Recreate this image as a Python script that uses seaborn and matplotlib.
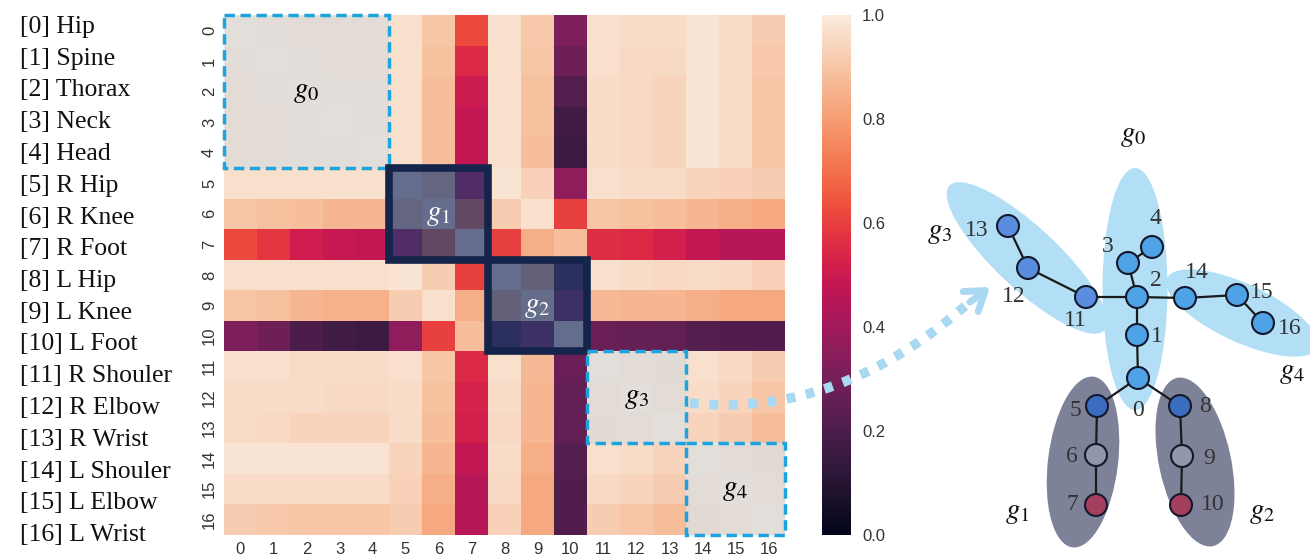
import numpy as np
import pandas as pd
import seaborn as sns
import matplotlib.pyplot as plt
from matplotlib.patches import Rectangle, Ellipse

# ==== Data ====

joint_names = ["Hip", "Spine", "Thorax", "Neck", "Head", "R Hip", "R Knee", "R Foot",
               "L Hip", "L Knee", "L Foot", "R Shouler", "R Elbow", "R Wrist",
               "L Shouler", "L Elbow", "L Wrist"]
joint_ids = [str(i) for i in range(17)]

# joint affinity matrix (rows / cols = joint index)
affinity = [
    [1.00, .99, .98, .98, .98, .97, .90, .62, .97, .91, .32, .97, .96, .96, .98, .96, .92],
    [.99, 1.00, .99, .98, .98, .97, .89, .55, .97, .90, .28, .97, .95, .95, .98, .96, .91],
    [.98, .99, 1.00, .99, .99, .97, .88, .50, .97, .89, .22, .96, .95, .94, .98, .96, .90],
    [.98, .98, .99, 1.00, .99, .97, .88, .48, .97, .89, .17, .96, .95, .94, .98, .96, .90],
    [.98, .98, .99, .99, 1.00, .97, .88, .48, .97, .88, .16, .96, .95, .94, .98, .96, .90],
    [.97, .97, .97, .97, .97, 1.00, .93, .45, .98, .93, .36, .97, .96, .96, .94, .93, .92],
    [.90, .89, .88, .86, .86, .93, 1.00, .70, .92, .97, .60, .90, .89, .88, .86, .84, .83],
    [.62, .58, .51, .49, .48, .45, .70, 1.00, .60, .84, .88, .56, .55, .52, .48, .45, .45],
    [.97, .97, .97, .97, .97, .98, .92, .60, 1.00, .89, .15, .97, .96, .95, .96, .95, .93],
    [.90, .89, .86, .85, .85, .92, .97, .84, .89, 1.00, .30, .87, .86, .86, .84, .83, .83],
    [.32, .28, .20, .17, .16, .36, .60, .88, .15, .30, 1.00, .27, .26, .25, .22, .21, .21],
    [.97, .97, .96, .96, .96, .97, .90, .55, .97, .87, .27, 1.00, .98, .97, .97, .95, .92],
    [.96, .96, .96, .95, .95, .96, .89, .53, .96, .86, .26, .98, 1.00, .98, .96, .94, .90],
    [.96, .95, .94, .94, .94, .96, .88, .52, .95, .86, .25, .97, .98, 1.00, .94, .92, .88],
    [.98, .98, .98, .98, .98, .94, .86, .48, .96, .84, .22, .97, .96, .94, 1.00, .98, .96],
    [.96, .96, .96, .96, .96, .93, .84, .45, .95, .83, .21, .95, .94, .92, .98, 1.00, .98],
    [.92, .91, .90, .90, .90, .92, .83, .45, .93, .83, .21, .92, .90, .88, .96, .98, 1.00],
]

# groups: (first joint, size, label, style)
groups = [(0, 5, "0", "dash"), (5, 3, "1", "solid"), (8, 3, "2", "solid"),
          (11, 3, "3", "dash"), (14, 3, "4", "dash")]

# skeleton layout (figure pixel space) and bones
node_x = [1138, 1137, 1137, 1128, 1152, 1097, 1096, 1096, 1180, 1182, 1181,
          1086, 1028, 1008, 1185, 1237, 1263]
node_y = [378, 335, 297, 263, 247, 406, 455, 505, 406, 456, 505,
          297, 268, 226, 298, 295, 323]
bones = [(0, 1), (1, 2), (2, 3), (3, 4), (0, 5), (5, 6), (6, 7), (0, 8), (8, 9),
         (9, 10), (2, 11), (11, 12), (12, 13), (2, 14), (14, 15), (15, 16)]
node_colors = ["#4ea3e6"] * 5 + ["#3b6cc0", "#9296ad", "#a4405e",
                                 "#3b6cc0", "#9296ad", "#a4405e"] \
              + ["#5a8de0"] * 3 + ["#4ea3e6"] * 3
num_dx = [0, 20, 19, -20, 3, -22, -24, -24, 25, 27, 32, -11, -14, -31, 12, 25, 27]
num_dy = [32, 1, -17, -17, -29, 4, 2, 0, 1, 2, 0, 23, 28, 5, -25, -2, 5]

# =============
# ==== Plot ====
# =============

plt.rcParams['mathtext.fontset'] = 'stix'
W, H = 1310, 559
fig = plt.figure(figsize=(W / 100, H / 100), dpi=100)

ax_hm = fig.add_axes([224 / W, 1 - 535 / H, 561 / W, 520 / H])
cax = fig.add_axes([822 / W, 1 - 535 / H, 29 / W, 520 / H])

df = pd.DataFrame(affinity, index=joint_ids, columns=joint_ids)
sns.heatmap(df, ax=ax_hm, cbar_ax=cax, vmin=0, vmax=1, cmap="rocket")
ax_hm.tick_params(length=0, labelsize=12, labelcolor="#333333", pad=5)
ax_hm.set_yticklabels(joint_ids, rotation=90, va="center", family="Liberation Sans")
ax_hm.set_xticklabels(joint_ids, rotation=0, family="Liberation Sans")
cax.tick_params(length=0, labelsize=12, labelcolor="#333333", pad=8)
cax.set_yticks([0, 0.2, 0.4, 0.6, 0.8, 1.0])
cax.set_yticklabels(["0.0", "0.2", "0.4", "0.6", "0.8", "1.0"], family="Liberation Sans")

# group boxes on the heatmap
for start, size, lab, style in groups:
    if style == "dash":
        rect = Rectangle((start, start), size, size, facecolor=(0.85, 0.85, 0.85, 0.7),
                         edgecolor="#1ba4e0", lw=2.5, ls=(0, (3, 1.6)), clip_on=False, zorder=3)
        tcol = "black"
    else:
        rect = Rectangle((start, start), size, size, facecolor=(0.145, 0.22, 0.415, 0.7),
                         edgecolor="#14244a", lw=5.5, clip_on=False, zorder=3)
        tcol = "white"
    ax_hm.add_patch(rect)
    ax_hm.text(start + size / 2, start + size / 2, "$g_%s$" % lab, color=tcol,
               fontsize=21, ha="center", va="center", zorder=4)

# overlay axes in pixel space: joint list, skeleton, arrow
ax = fig.add_axes([0, 0, 1, 1])
ax.set_xlim(0, W)
ax.set_ylim(H, 0)
ax.axis("off")

for i, name in enumerate(joint_names):
    ax.text(20, 27 + i * 31.75, "[%d] %s" % (i, name), fontsize=18.5,
            family="Liberation Serif", va="center", ha="left", color="#111111")

ell_light = "#b2dff5"
ell_dark = "#7e8299"
for (cx, cy, w, h, ang, col) in [(1135, 289, 65, 242, 0, ell_light),
                                  (1027, 258, 212, 62, 43, ell_light),
                                  (1242, 313, 165, 58, 25, ell_light),
                                  (1083, 462, 70, 172, 7, ell_dark),
                                  (1195, 462, 72, 172, -12, ell_dark)]:
    ax.add_patch(Ellipse((cx, cy), w, h, angle=ang, facecolor=col, edgecolor="none", zorder=1))

for a, b in bones:
    ax.plot([node_x[a], node_x[b]], [node_y[a], node_y[b]], color="#1a1a1a", lw=1.6, zorder=2)
ax.scatter(node_x, node_y, s=250, c=node_colors, edgecolors="#15182a", linewidths=1.5, zorder=3)
for i in range(17):
    ax.text(node_x[i] + num_dx[i], node_y[i] + num_dy[i], str(i), fontsize=17,
            family="Liberation Serif", color="#333333", ha="center", va="center", zorder=4)

for lab, x, y in [("0", 1133, 135), ("3", 940, 232), ("4", 1292, 372),
                  ("1", 1017, 512), ("2", 1262, 512)]:
    ax.text(x, y, "$g_%s$" % lab, fontsize=21, ha="center", va="center", color="#111111")

arrow_col = "#a9d8f2"
ax.annotate("", xy=(972, 300), xytext=(690, 403),
            arrowprops=dict(arrowstyle="-", connectionstyle="angle3,angleA=-6,angleB=42", lw=7,
                            color=arrow_col, linestyle=(0, (0.9, 1.1)), capstyle="butt",
                            shrinkA=0, shrinkB=0))
ax.annotate("", xy=(990, 287), xytext=(970, 302),
            arrowprops=dict(arrowstyle="->,head_length=1.3,head_width=0.9", lw=5,
                            color=arrow_col, shrinkA=0, shrinkB=0))

fig.savefig("out.png", dpi=100)
